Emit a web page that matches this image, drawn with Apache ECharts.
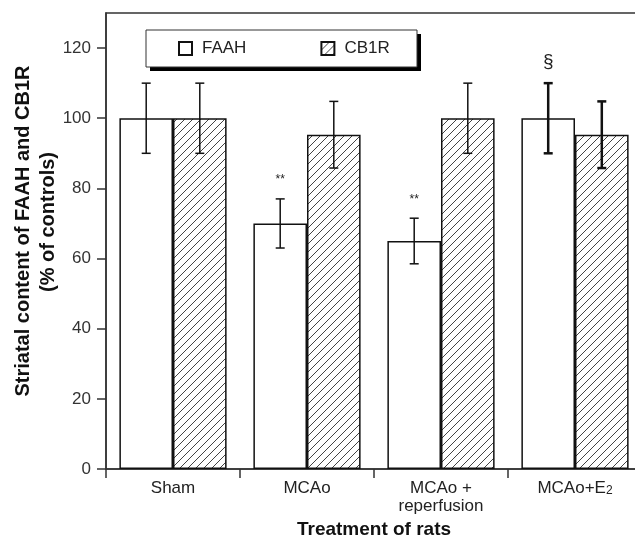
<!DOCTYPE html>
<html>
<head>
<meta charset="utf-8">
<script src="https://cdn.jsdelivr.net/npm/echarts@6/dist/echarts.min.js"></script>
<style>
  html, body { margin: 0; padding: 0; background: #fff; }
  #main { width: 635px; height: 538px; }
</style>
</head>
<body>
<div id="main"></div>
<script>
// categories on the x axis
var categories = ['Sham', 'MCAo', 'MCAo +\nreperfusion', 'MCAo+E{sub|2}'];
// FAAH (open bars)
var faahMean = [100, 70, 65, 100];
var faahErr = [10, 7, 6.5, 10];
// CB1R (hatched bars)
var cb1rMean = [100, 95.3, 100, 95.3];
var cb1rErr = [10, 9.5, 10, 9.5];
// significance marks above FAAH bars
var faahMarks = ['', '**', '**', '§'];
// y ticks
var yTicks = [0, 20, 40, 60, 80, 100, 120];

var FONT = 'Liberation Sans, Arial, sans-serif';

// diagonal hatch pattern
function makeHatch() {
    var s = 8;
    var cv = document.createElement('canvas');
    cv.width = s; cv.height = s;
    var ctx = cv.getContext('2d');
    ctx.fillStyle = '#fff';
    ctx.fillRect(0, 0, s, s);
    ctx.strokeStyle = '#444';
    ctx.lineWidth = 1;
    ctx.beginPath();
    ctx.moveTo(-1, s + 1); ctx.lineTo(s + 1, -1);
    ctx.moveTo(-1, 1); ctx.lineTo(1, -1);
    ctx.moveTo(s - 1, s + 1); ctx.lineTo(s + 1, s - 1);
    ctx.stroke();
    return cv;
}
var hatch = { image: makeHatch(), repeat: 'repeat' };

// error bars + marks, one item per bar
var errData = [];
for (var i = 0; i < categories.length; i++) {
    errData.push([i, faahMean[i], faahErr[i], 0]);
    errData.push([i, cb1rMean[i], cb1rErr[i], 1]);
}

var myChart = echarts.init(document.getElementById('main'));
var option = {
    backgroundColor: '#fff',
    animation: false,
    textStyle: { fontFamily: FONT },
    grid: {
        left: 106, width: 536, top: 13, bottom: 69,
        outerBoundsMode: 'none',
        containLabel: false,
        show: true, borderColor: '#333', borderWidth: 1.5, backgroundColor: 'transparent'
    },
    // y axis title and legend box
    graphic: [
        {
            type: 'text', x: 23, y: 231, rotation: Math.PI / 2, z: 5,
            style: {
                text: 'Striatal content of FAAH and CB1R', font: 'bold 20px ' + FONT,
                fill: '#111', align: 'center', verticalAlign: 'middle'
            }
        },
        {
            type: 'text', x: 48, y: 222, rotation: Math.PI / 2, z: 5,
            style: {
                text: '(% of controls)', font: 'bold 20px ' + FONT,
                fill: '#111', align: 'center', verticalAlign: 'middle'
            }
        },
        {
            type: 'rect', shape: { x: 150, y: 34, width: 271, height: 37 },
            style: { fill: '#000' }, z: 1
        },
        {
            type: 'rect', shape: { x: 146, y: 30, width: 271, height: 37 },
            style: { fill: '#fff', stroke: '#333', lineWidth: 1 }, z: 2
        }
    ],
    legend: {
        left: 178, top: 40,
        padding: 0,
        z: 10,
        itemWidth: 13, itemHeight: 13, itemGap: 74,
        icon: 'rect',
        textStyle: { fontSize: 17, color: '#222', padding: [0, 0, 0, 5] },
        data: ['FAAH', 'CB1R']
    },
    xAxis: {
        type: 'category',
        data: categories,
        boundaryGap: true,
        name: 'Treatment of rats',
        nameLocation: 'middle',
        nameGap: 50,
        nameTextStyle: { fontSize: 19, fontWeight: 'bold', color: '#111' },
        axisLine: { lineStyle: { color: '#333', width: 1.5 } },
        axisTick: { show: true, inside: false, length: 9, interval: 0, lineStyle: { color: '#333', width: 1.5 } },
        axisLabel: {
            interval: 0, margin: 10, fontSize: 17, color: '#222', lineHeight: 18,
            rich: { sub: { fontSize: 12, verticalAlign: 'bottom', padding: [8, 0, 0, 0], color: '#222' } }
        },
        splitLine: { show: false }
    },
    yAxis: {
        type: 'value',
        min: 0, max: 130,
        axisLine: { show: true, lineStyle: { color: '#333', width: 1.5 } },
        axisTick: { show: true, inside: false, length: 9, customValues: yTicks, lineStyle: { color: '#333', width: 1.5 } },
        axisLabel: { margin: 15, fontSize: 17, color: '#333', customValues: yTicks },
        splitLine: { show: false }
    },
    series: [
        {
            name: 'FAAH',
            type: 'bar',
            data: faahMean,
            barGap: '0%',
            barCategoryGap: '20%',
            itemStyle: { color: '#fff', borderColor: '#111', borderWidth: 1.5 }
        },
        {
            name: 'CB1R',
            type: 'bar',
            data: cb1rMean,
            barGap: '0%',
            barCategoryGap: '20%',
            itemStyle: { color: hatch, borderColor: '#111', borderWidth: 1.5 }
        },
        {
            name: 'err',
            type: 'custom',
            data: errData,
            z: 10,
            renderItem: function (params, api) {
                var cat = api.value(0), mean = api.value(1), err = api.value(2), s = api.value(3);
                var bandW = api.size([1, 0])[0];
                var barW = bandW * 0.8 / 2;
                var x = api.coord([cat, 0])[0] + (s === 0 ? -barW / 2 : barW / 2);
                var yHi = api.coord([cat, mean + err])[1];
                var yLo = api.coord([cat, mean - err])[1];
                var cap = 4.5;
                var st = { stroke: '#111', lineWidth: cat === 3 ? 2.5 : 1.5 };
                var kids = [
                    { type: 'line', shape: { x1: x, y1: yHi, x2: x, y2: yLo }, style: st },
                    { type: 'line', shape: { x1: x - cap, y1: yHi, x2: x + cap, y2: yHi }, style: st },
                    { type: 'line', shape: { x1: x - cap, y1: yLo, x2: x + cap, y2: yLo }, style: st }
                ];
                var mark = s === 0 ? faahMarks[cat] : '';
                if (mark) {
                    var big = mark === '§';
                    kids.push({
                        type: 'text',
                        style: {
                            text: mark, x: x, y: yHi - (big ? 12 : 13),
                            align: 'center', verticalAlign: 'bottom',
                            fontSize: big ? 19 : 12, fill: '#222', fontFamily: FONT
                        }
                    });
                }
                return { type: 'group', children: kids };
            }
        }
    ]
};
myChart.setOption(option);
</script>
</body>
</html>
